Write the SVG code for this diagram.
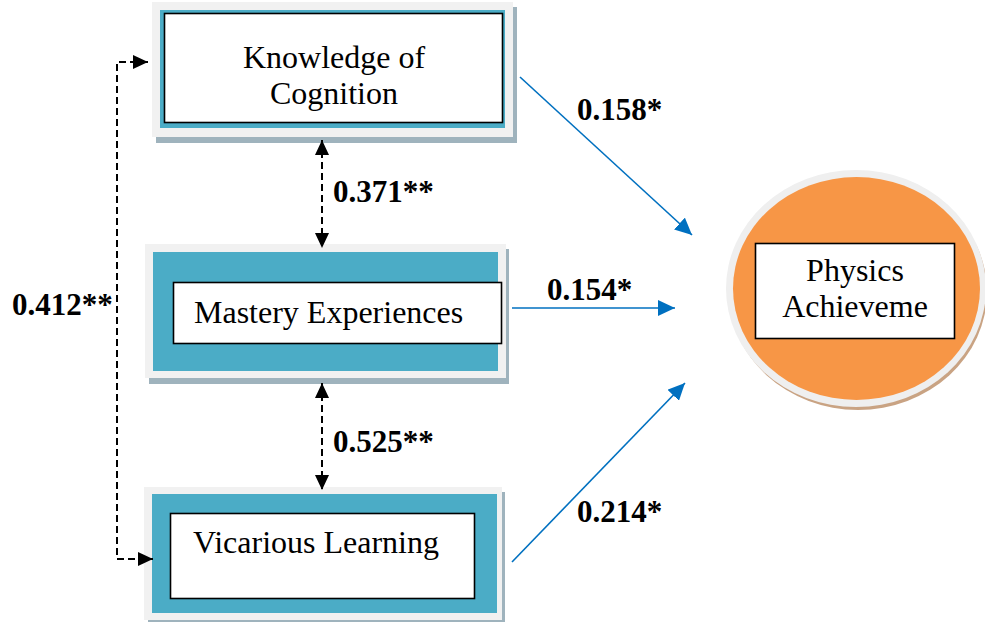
<svg xmlns="http://www.w3.org/2000/svg" width="985" height="622" viewBox="0 0 985 622">
  <defs>
    <style>
      .shadow { fill: #9fb3bd; }
      .frame { fill: #f1f1f1; }
      .band { fill: #4bacc6; }
      .label-box { fill: #ffffff; stroke: #000000; stroke-width: 1.6; }
      .node-text { font-family: "Liberation Serif", "Times New Roman", serif; font-size: 32px; fill: #000000; }
      .coef { font-family: "Liberation Serif", "Times New Roman", serif; font-size: 31px; font-weight: bold; fill: #000000; }
      .corr { fill: none; stroke: #000000; stroke-width: 2; stroke-dasharray: 7 4; }
      .path { fill: none; stroke: #0070c0; stroke-width: 1.6; }
    </style>
    <marker id="head-black" markerUnits="userSpaceOnUse" markerWidth="16" markerHeight="14" refX="15" refY="7" orient="auto-start-reverse">
      <path d="M0,0 L15,7 L0,14 Z" fill="#000000"/>
    </marker>
    <marker id="head-blue" markerUnits="userSpaceOnUse" markerWidth="18" markerHeight="16" refX="17" refY="8" orient="auto">
      <path d="M0,0 L17,8 L0,16 Z" fill="#0070c0"/>
    </marker>
  </defs>

  <rect width="985" height="622" fill="#ffffff"/>

  <!-- Knowledge of Cognition -->
  <g id="knowledge-of-cognition">
    <rect class="shadow" x="156" y="7" width="361" height="136"/>
    <rect class="frame" x="152" y="2" width="361" height="135"/>
    <rect class="band" x="160" y="10" width="345" height="118"/>
    <rect class="label-box" x="164.5" y="13.5" width="338" height="109"/>
    <text class="node-text" x="334" y="68" text-anchor="middle">Knowledge of</text>
    <text class="node-text" x="334" y="104" text-anchor="middle">Cognition</text>
  </g>

  <!-- Mastery Experiences -->
  <g id="mastery-experiences">
    <rect class="shadow" x="149" y="249" width="360" height="135"/>
    <rect class="frame" x="145" y="244" width="361" height="134"/>
    <rect class="band" x="153" y="252" width="345" height="119"/>
    <rect class="label-box" x="173.5" y="282.5" width="328" height="61"/>
    <text class="node-text" x="194" y="323">Mastery Experiences</text>
  </g>

  <!-- Vicarious Learning -->
  <g id="vicarious-learning">
    <rect class="shadow" x="148" y="492" width="357" height="134"/>
    <rect class="frame" x="144" y="487" width="358" height="133"/>
    <rect class="band" x="152" y="494" width="345" height="119"/>
    <rect class="label-box" x="170.5" y="513.5" width="304" height="85"/>
    <text class="node-text" x="193" y="553">Vicarious Learning</text>
  </g>

  <!-- Physics Achievement -->
  <g id="physics-achievement">
    <ellipse cx="858" cy="292" rx="129" ry="118" fill="#c9a383"/>
    <ellipse cx="856" cy="288.5" rx="130" ry="118.5" fill="#efefef"/>
    <ellipse cx="856.5" cy="288.5" rx="123.5" ry="111.5" fill="#f79646"/>
    <rect class="label-box" x="755.5" y="243.5" width="199" height="95"/>
    <text class="node-text" x="855" y="281" text-anchor="middle">Physics</text>
    <text class="node-text" x="855" y="317" text-anchor="middle">Achieveme</text>
  </g>

  <!-- Correlations and paths -->
  <g id="connectors">
    <path class="corr" d="M148,62 H117 V559 H153" marker-start="url(#head-black)" marker-end="url(#head-black)"/>
    <path class="corr" d="M322,140 V248" marker-start="url(#head-black)" marker-end="url(#head-black)"/>
    <path class="corr" d="M322,383 V490" marker-start="url(#head-black)" marker-end="url(#head-black)"/>
    <path class="path" d="M520,77 L692,235" marker-end="url(#head-blue)"/>
    <path class="path" d="M512,308 L675,308" marker-end="url(#head-blue)"/>
    <path class="path" d="M512,562 L685,383" marker-end="url(#head-blue)"/>
    <text class="coef" x="12" y="315">0.412**</text>
    <text class="coef" x="333" y="202">0.371**</text>
    <text class="coef" x="333" y="452">0.525**</text>
    <text class="coef" x="577" y="120">0.158*</text>
    <text class="coef" x="547" y="300">0.154*</text>
    <text class="coef" x="577" y="522">0.214*</text>
  </g>
</svg>
